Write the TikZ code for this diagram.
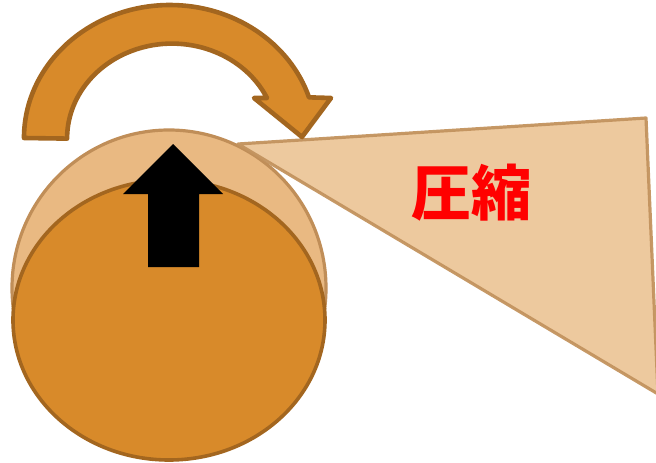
\documentclass[tikz,border=0pt]{standalone}
\usepackage{fontspec}
\newfontfamily\cjk{Noto Sans CJK JP}
\definecolor{orangefill}{HTML}{D88A2A}
\definecolor{orangeline}{HTML}{A3661F}
\definecolor{lightfill}{HTML}{E9B982}
\definecolor{lightline}{HTML}{C08E58}
\definecolor{trifill}{HTML}{ECC699}
\definecolor{triline}{HTML}{C3935E}
\tikzset{
  darkshape/.style={fill=orangefill, draw=orangeline, line width=3.6pt},
  arcarrow/.style={fill=orangefill, draw=orangeline, line width=4.6pt, line join=round},
  lightshape/.style={fill=lightfill, draw=lightline, line width=3.2pt},
  wedge/.style={fill=trifill, draw=triline, line width=3.2pt, opacity=0.95, line join=round},
  blockarrow/.style={fill=black, draw=none},
  label/.style={text=red, font=\cjk\bfseries\fontsize{60}{60}\selectfont, inner sep=0pt}
}
\begin{document}
\begin{tikzpicture}[x=1pt, y=-1pt]
\useasboundingbox (0,0) rectangle (656,463);
% light (original) disc
\path[lightshape] (169,288) ellipse[x radius=157, y radius=158];
% compressed disc
\path[darkshape] (169,320) ellipse[x radius=156, y radius=140];
% wedge
\path[wedge] (238,144) -- (646,118) -- (658,394) -- cycle;
% up arrow
\path[blockarrow] (173,144) -- (223,194) -- (199,194) -- (199,267) -- (148,267) -- (148,194) -- (123,194) -- cycle;
% curved arrow
\path[arcarrow]
  (24,138) arc[start angle=180, end angle=342.2, x radius=146, y radius=133]
  -- (331,98) -- (302,137) -- (254,98) -- (267,98)
  arc[start angle=334.7, end angle=180, x radius=105, y radius=95] -- cycle;
\node[label] (t) at (471,193) {圧縮};
\end{tikzpicture}
\end{document}
